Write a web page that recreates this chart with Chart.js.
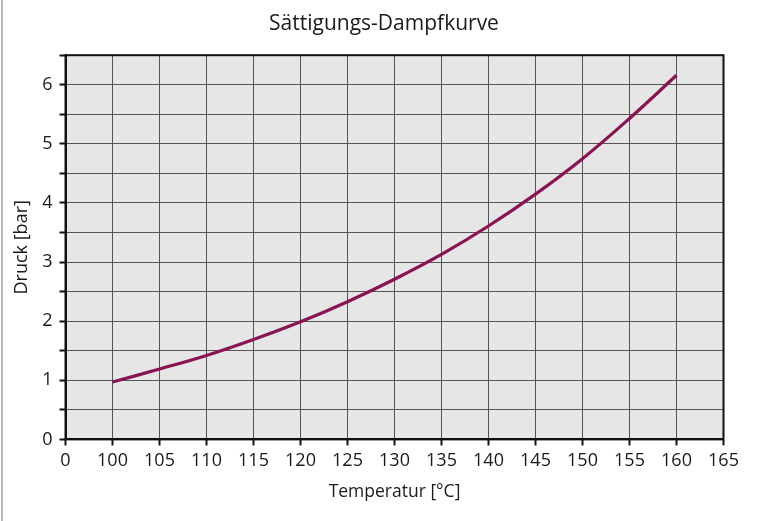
<!DOCTYPE html>
<html>
<head>
<meta charset="utf-8">
<script src="https://cdn.jsdelivr.net/npm/chart.js@4"></script>
<style>
html,body{margin:0;padding:0;background:#fff;}
#wrap{position:relative;width:768px;height:521px;}
#edge{position:absolute;left:1px;top:0;width:2px;height:521px;background:#b8b8b8;}
canvas{position:absolute;left:0;top:0;}
</style>
</head>
<body>
<div id="wrap"><canvas id="c" width="768" height="521"></canvas><div id="edge"></div></div>
<script>
const titleText = 'Sättigungs-Dampfkurve';
const xTitle = 'Temperatur [°C]';
const yTitle = 'Druck [bar]';
const temperatures = [100, 105, 110, 115, 120, 125, 130, 135, 140, 145, 150, 155, 160];
const pressures = [0.97, 1.19, 1.42, 1.69, 1.99, 2.33, 2.71, 3.13, 3.61, 4.15, 4.75, 5.43, 6.16];
const xTickValues = [95, 100, 105, 110, 115, 120, 125, 130, 135, 140, 145, 150, 155, 160, 165];
const xTickLabels = ['0', '100', '105', '110', '115', '120', '125', '130', '135', '140', '145', '150', '155', '160', '165'];
const yTickLabels = ['0', '1', '2', '3', '4', '5', '6'];

const FONT = "'Open Sans', 'Noto Sans', sans-serif";

const bgPlugin = {
  id: 'plotbg',
  beforeDraw(chart) {
    const {ctx, chartArea: a} = chart;
    ctx.save();
    ctx.fillStyle = '#e6e6e6';
    ctx.fillRect(a.left, a.top, a.right - a.left, a.bottom - a.top);
    ctx.restore();
  },
  afterDraw(chart) {
    const {ctx, chartArea: a} = chart;
    ctx.save();
    ctx.strokeStyle = '#111';
    ctx.lineWidth = 2;
    ctx.strokeRect(a.left, a.top, a.right - a.left, a.bottom - a.top);
    ctx.restore();
  }
};

new Chart(document.getElementById('c'), {
  type: 'line',
  data: {
    datasets: [{
      data: temperatures.map((t, i) => ({x: t, y: pressures[i]})),
      borderColor: '#8a1452',
      borderWidth: 3.2,
      pointRadius: 0,
      tension: 0.4,
      fill: false
    }]
  },
  options: {
    responsive: false,
    animation: false,
    layout: {padding: 0},
    plugins: {
      legend: {display: false},
      tooltip: {enabled: false},
      title: {
        display: true,
        text: titleText,
        color: '#1a1a1a',
        font: {family: FONT, size: 21, weight: 'normal'},
        padding: {top: 11, bottom: 19}
      }
    },
    scales: {
      x: {
        type: 'linear',
        min: 95,
        max: 165,
        afterBuildTicks(scale) { scale.ticks = xTickValues.map(v => ({value: v})); },
        ticks: {
          autoSkip: false,
          maxRotation: 0,
          color: '#1a1a1a',
          font: {family: FONT, size: 18},
          padding: 5,
          callback(v) { const i = xTickValues.indexOf(v); return i >= 0 ? xTickLabels[i] : ''; }
        },
        grid: {color: '#555', lineWidth: 1, tickLength: 6, tickColor: '#111', tickWidth: 2},
        border: {display: true, color: '#111', width: 2},
        title: {display: true, text: xTitle, color: '#1a1a1a', font: {family: FONT, size: 17.5}, padding: {top: 5, bottom: 18}}
      },
      y: {
        min: 0,
        max: 6.5,
        afterFit(scale) { scale.width = 65.5; },
        ticks: {
          stepSize: 0.5,
          color: '#1a1a1a',
          font: {family: FONT, size: 18},
          padding: 7,
          callback(v) { return Number.isInteger(v) ? yTickLabels[v] : ''; }
        },
        grid: {color: '#555', lineWidth: 1, tickLength: 6, tickColor: '#111', tickWidth: 2},
        border: {display: true, color: '#111', width: 2},
        title: {display: true, text: yTitle, color: '#1a1a1a', font: {family: FONT, size: 18}, padding: {top: 11, bottom: 0}}
      },
      yRight: {
        position: 'right',
        min: 0,
        max: 6.5,
        afterFit(scale) { scale.width = 44.5; },
        ticks: {display: false},
        grid: {display: false},
        border: {display: false}
      }
    }
  },
  plugins: [bgPlugin]
});
</script>
</body>
</html>
